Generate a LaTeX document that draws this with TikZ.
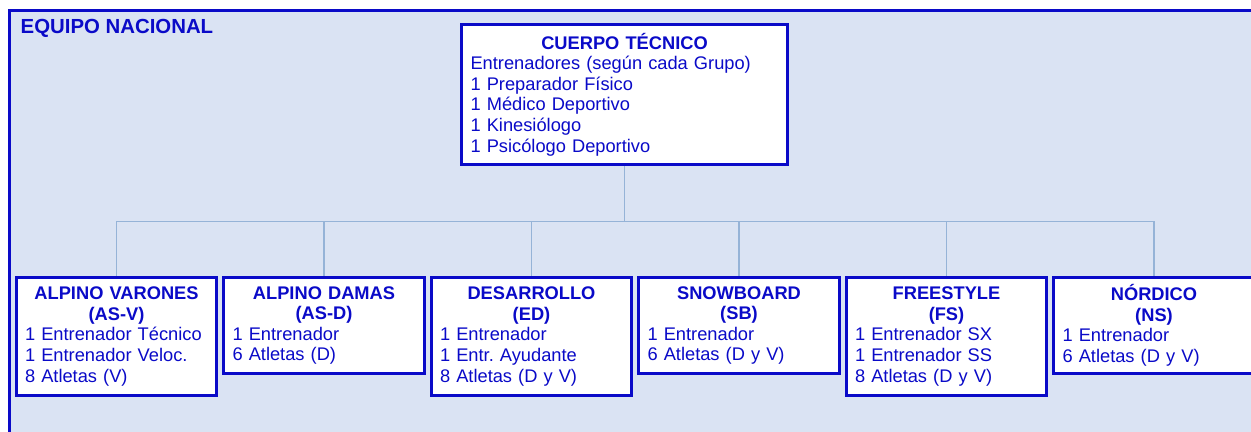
\documentclass[tikz,border=0pt]{standalone}
\usepackage{fontspec}
\setmainfont{Liberation Sans}
\usetikzlibrary{positioning}
\setlength{\parindent}{0pt}
\frenchspacing
\definecolor{azul}{RGB}{10,10,200}
\definecolor{fondo}{RGB}{218,227,243}
\definecolor{linea}{RGB}{149,179,215}
\tikzstyle{every grupo} = []
\tikzstyle{grupo} = [draw=azul, fill=white, line width=1.7pt, text=azul, text width=3.66cm, inner xsep=0.18cm, minimum width=4.02cm, every grupo]
\tikzstyle{conector} = [draw=linea, line width=0.7pt]

\begin{document}
\begin{tikzpicture}[x=0.02cm, y=-0.02cm, font=\fontsize{10.4}{11.7}\selectfont]
                    \useasboundingbox (0,0) rectangle (1251,432);
                    \fill[white] (0,0) rectangle (1251,432);
                    \draw[draw=azul, fill=fondo, line width=1.9pt] (9.5,10.5) rectangle (1270,450);
                    \node[anchor=base west, text=azul, font=\fontsize{11.6}{13}\selectfont\bfseries] (titulo) at (14.5,33.5) {EQUIPO NACIONAL};
                    \node[grupo, text width=6.16cm, minimum width=6.54cm, minimum height=2.82cm] (cuerpo) at (624.5,94.5) {\centering\textbf{CUERPO TÉCNICO}\par\raggedright Entrenadores (según cada Grupo)\\1 Preparador Físico\\1 Médico Deportivo\\1 Kinesiólogo\\1 Psicólogo Deportivo};
                    \node[grupo, minimum height=2.38cm] (alpinov) at (116.5,336.5) {\centering\textbf{ALPINO VARONES\\(AS-V)}\par\raggedright 1 Entrenador Técnico\\1 Entrenador Veloc.\\8 Atletas (V)};
                    \node[grupo, minimum height=1.94cm] (alpinod) at (324,325.5) {\centering\textbf{ALPINO DAMAS\\(AS-D)}\par\raggedright 1 Entrenador\\6 Atletas (D)};
                    \node[grupo, minimum height=2.38cm] (desarrollo) at (531.5,336.5) {\centering\textbf{DESARROLLO\\(ED)}\par\raggedright 1 Entrenador\\1 Entr. Ayudante\\8 Atletas (D y V)};
                    \node[grupo, minimum height=1.94cm] (snowboard) at (739,325.5) {\centering\textbf{SNOWBOARD\\(SB)}\par\raggedright 1 Entrenador\\6 Atletas (D y V)};
                    \node[grupo, minimum height=2.38cm] (freestyle) at (946.5,336.5) {\centering\textbf{FREESTYLE\\(FS)}\par\raggedright 1 Entrenador SX\\1 Entrenador SS\\8 Atletas (D y V)};
                    \node[grupo, minimum height=1.94cm] (nordico) at (1154,325.5) {\centering\textbf{NÓRDICO\\(NS)}\par\raggedright 1 Entrenador\\6 Atletas (D y V)};
                    \draw[conector] (cuerpo.south) -- ++(0,55) -| (alpinov.north);
                    \draw[conector] (cuerpo.south) -- ++(0,55) -| (alpinod.north);
                    \draw[conector] (cuerpo.south) -- ++(0,55) -| (desarrollo.north);
                    \draw[conector] (cuerpo.south) -- ++(0,55) -| (snowboard.north);
                    \draw[conector] (cuerpo.south) -- ++(0,55) -| (freestyle.north);
                    \draw[conector] (cuerpo.south) -- ++(0,55) -| (nordico.north);
                \end{tikzpicture}
\end{document}
